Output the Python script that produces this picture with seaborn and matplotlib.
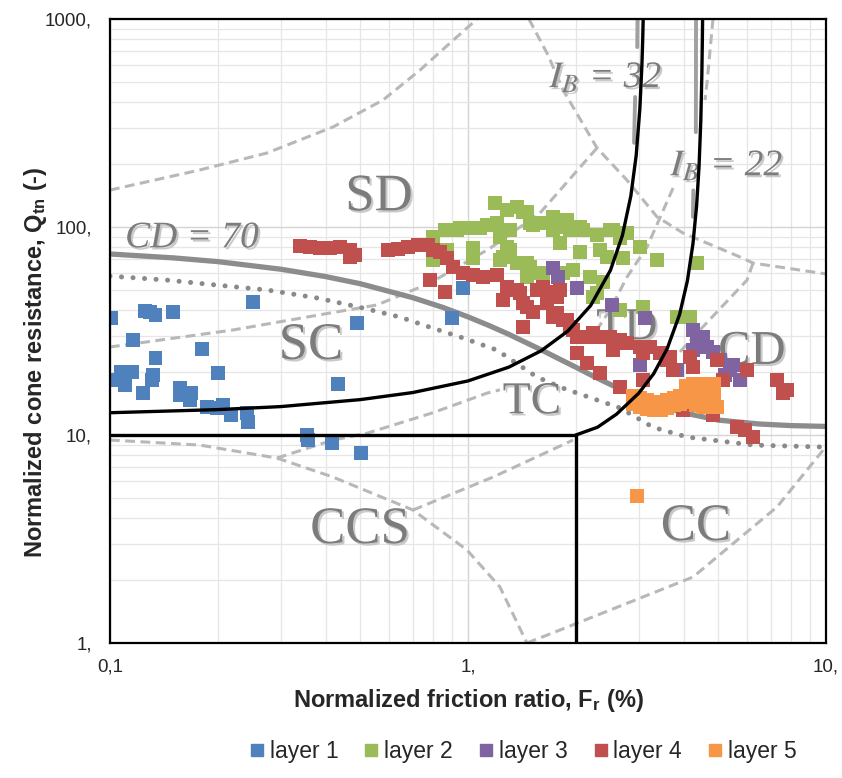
import numpy as np
import pandas as pd
import matplotlib
matplotlib.use("Agg")
import matplotlib.pyplot as plt
import matplotlib.patheffects as pe
from matplotlib.lines import Line2D
from matplotlib.ticker import NullFormatter, LogLocator
import seaborn as sns

# -------------------------------------------
# CPTu points per layer: Fr (%) and Qtn (-)
# -------------------------------------------
fr1 = [0.101, 0.125, 0.129, 0.134, 0.150, 0.251, 0.490, 0.116, 0.181, 0.134,
       0.200, 0.433, 0.107, 0.115, 0.103, 0.110, 0.132, 0.131, 0.124, 0.157,
       0.157, 0.169, 0.167, 0.187, 0.199, 0.207, 0.218, 0.241, 0.243, 0.355,
       0.357, 0.417, 0.503, 0.902, 0.968]
q1 = [36.5, 39.5, 39.0, 37.8, 39.0, 43.6, 34.6, 28.6, 25.9, 23.5,
      19.9, 17.6, 20.1, 20.1, 18.4, 17.4, 19.4, 18.4, 15.9, 16.8,
      15.6, 15.9, 14.7, 13.6, 13.5, 13.9, 12.5, 12.8, 11.5, 10.0,
      9.46, 9.15, 8.19, 36.5, 50.9]

fr2 = [0.798, 0.798, 0.863, 0.873, 0.932, 0.950, 1.013, 1.033, 1.033, 1.080,
       1.130, 1.190, 1.205, 1.228, 1.228, 1.252, 1.285, 1.285, 1.310, 1.310,
       1.370, 1.370, 1.424, 1.461, 1.461, 1.490, 1.490, 1.519, 1.558, 1.620,
       1.620, 1.728, 1.728, 1.807, 1.843, 1.843, 1.890, 1.927, 1.965, 2.055,
       2.055, 2.095, 2.192, 2.235, 2.293, 2.338, 2.383, 2.445, 2.492, 2.541,
       2.658, 2.658, 2.710, 2.781, 3.023, 3.083, 3.372, 3.835, 4.170, 4.362,
       2.293, 1.461]
q2 = [89.5, 69.4, 96.7, 77.5, 96.7, 98.9, 98.9, 79.3, 71.0, 98.9,
      102.2, 130.5, 104.5, 89.5, 69.4, 71.8, 120.7, 80.1, 96.7, 77.5,
      124.8, 67.1, 118.1, 67.1, 57.5, 104.5, 64.2, 102.2, 60.1, 104.5,
      60.1, 111.7, 96.7, 83.8, 100.0, 60.1, 108.1, 96.7, 62.1, 100.0,
      75.8, 96.7, 57.5, 46.1, 91.5, 77.5, 54.4, 71.8, 96.7, 96.7,
      88.5, 39.9, 71.0, 93.6, 80.1, 41.2, 69.4, 36.9, 36.9, 67.1,
      48.2, 118.1]

fr3 = [1.728, 1.784, 2.016, 2.525, 3.122, 3.023, 4.251, 4.533, 4.651, 4.834,
       5.056, 5.393, 5.753, 3.835, 4.362, 4.251, 5.499, 5.224]
q3 = [63.5, 57.5, 50.9, 42.2, 36.5, 21.7, 32.0, 29.6, 26.5, 25.1,
      22.9, 20.5, 18.4, 20.5, 27.7, 25.6, 21.7, 19.4]

fr4 = [0.340, 0.362, 0.386, 0.412, 0.439, 0.468, 0.483, 0.468, 0.598, 0.638,
       0.680, 0.725, 0.773, 0.798, 0.835, 0.873, 0.908, 0.968, 1.033, 1.101,
       1.205, 1.285, 1.370, 1.397, 1.558, 1.620, 1.695, 1.773, 1.807, 0.783,
       0.863, 1.252, 1.424, 1.461, 1.662, 1.519, 1.773, 1.843, 1.424, 1.728,
       1.927, 1.965, 2.016, 2.095, 2.192, 2.293, 2.383, 2.541, 2.658, 2.781,
       2.541, 1.890, 2.016, 2.149, 2.235, 2.338, 2.492, 2.658, 2.710, 3.023,
       3.083, 3.225, 3.438, 3.083, 3.596, 3.665, 3.737, 4.170, 4.251, 4.960,
       5.157, 6.017, 7.297, 7.782, 7.584, 3.987, 4.834, 5.643, 5.940, 6.254]
q4 = [81.0, 80.1, 79.3, 79.3, 80.1, 77.5, 73.3, 71.8, 77.5, 78.4,
      80.1, 81.9, 81.9, 77.5, 75.8, 71.0, 64.2, 60.1, 58.8, 57.5,
      58.8, 51.5, 49.8, 48.2, 49.8, 51.5, 48.7, 46.1, 49.8, 55.6,
      48.7, 44.6, 43.1, 41.2, 43.1, 39.0, 38.6, 35.7, 33.0, 36.9,
      33.0, 32.0, 29.6, 29.6, 29.6, 29.6, 29.6, 28.6, 28.6, 27.7,
      25.6, 35.7, 24.8, 22.2, 30.9, 19.9, 29.6, 17.0, 27.7, 26.5,
      18.4, 26.5, 24.8, 24.8, 22.9, 23.7, 20.5, 23.7, 21.2, 22.9,
      18.4, 20.5, 18.4, 16.5, 15.9, 13.2, 12.5, 10.9, 10.6, 9.78]

fr5 = [2.890, 2.890, 3.023, 3.023, 3.162, 3.162, 3.308, 3.308, 3.460, 3.460,
       3.596, 3.596, 3.761, 3.761, 3.909, 3.909, 4.063, 4.063, 4.063, 4.251,
       4.251, 4.251, 4.446, 4.446, 4.446, 4.651, 4.651, 4.651, 4.866, 4.866,
       4.866, 4.960, 4.742, 4.533, 4.334, 2.966]
q5 = [15.4, 14.1, 15.1, 13.6, 14.7, 13.3, 14.4, 13.2, 14.3, 13.2,
      14.7, 13.5, 15.1, 13.9, 15.4, 14.1, 17.2, 15.7, 14.4, 17.6,
      16.1, 14.7, 17.6, 16.1, 14.7, 17.6, 16.1, 14.7, 17.6, 16.1,
      14.7, 13.6, 13.6, 13.6, 13.9, 5.09]

layer_names = ["layer 1", "layer 2", "layer 3", "layer 4", "layer 5"]
layer_colors = ["#4F81BD", "#9BBB59", "#8064A2", "#C0504D", "#F79646"]

# -------------------------------------------
# Chart boundaries
# -------------------------------------------
ib32_fr = [0.1, 0.2, 0.3, 0.5, 0.7, 1.0, 1.3, 1.6, 1.9, 2.2, 2.5, 2.7, 2.85, 2.95, 3.02, 3.06, 3.075, 3.086]
ib32_q = [12.8, 13.25, 13.7, 14.8, 16.0, 18.2, 21.2, 25.4, 31.6, 41.9, 62.0, 91.2, 141, 221, 369, 596, 775, 1000]
ib22_fr = [2.0, 2.3, 2.6, 3.0, 3.3, 3.6, 3.9, 4.1, 4.25, 4.35, 4.42, 4.47, 4.50, 4.515, 4.522]
ib22_q = [10.0, 10.9, 12.6, 15.9, 19.7, 26.0, 38.0, 55.1, 83.1, 126, 196, 325, 540, 800, 1000]
box_fr = [0.1, 2.0, 2.0]
box_q = [10.0, 10.0, 1.0]
cd70_fr = [0.1, 0.15, 0.2, 0.3, 0.4, 0.5, 0.7, 0.85, 1.0, 1.15, 1.3, 1.6, 1.8, 2.0, 2.25, 2.5, 3.0, 3.5, 4.0, 5.0, 6.5, 8.0, 10.0]
cd70_q = [74.2, 71.1, 68.2, 62.7, 57.8, 53.4, 45.8, 41.1, 37.0, 33.5, 30.5, 25.7, 23.2, 21.2, 19.1, 17.5, 15.2, 13.7, 12.8, 11.8, 11.3, 11.1, 11.0]
dot_fr = [0.1, 0.144, 0.199, 0.275, 0.379, 0.509, 0.646, 0.783, 0.968, 1.205, 1.558, 1.843, 2.658, 3.287, 4.091, 6.254, 10.0]
dot_q = [58.1, 55.6, 52.6, 49.8, 45.6, 40.8, 36.9, 33.0, 29.3, 25.6, 19.0, 16.8, 13.5, 10.9, 9.78, 8.95, 8.75]

dashed_guides = [
    ([0.1, 0.178, 0.2745, 0.420, 0.579, 0.735, 0.891, 1.06], [150.6, 188, 227, 303, 408, 569, 767, 1000]),
    ([1.48, 1.673, 1.843, 2.293, 2.781, 3.372, 3.987, 5.753, 6.254, 10.0], [1000, 671, 456, 240, 168, 112, 93.6, 71.8, 67.1, 59.5]),
    ([0.1, 0.2207, 0.4117, 0.5568, 0.7832, 1.152, 1.589, 2.293], [26.5, 32.0, 38.6, 42.2, 53.8, 79, 116.8, 240]),
    ([4.834, 4.651, 4.592], [1000, 492, 408]),
    ([3.74, 3.162, 2.781, 2.492, 2.192], [154, 80.1, 57.5, 39.9, 28.6]),
    ([6.254, 6.017, 4.446, 3.909], [67.1, 55.6, 32.0, 25.1]),
    ([0.1, 0.178, 0.2927], [9.46, 8.95, 7.75]),
    ([0.2927, 0.4197, 0.5223, 0.798, 1.130, 1.228], [7.75, 9.46, 10.2, 12.8, 15.9, 16.5]),
    ([0.2927, 0.4197, 0.7022, 0.9936, 1.228, 1.461], [7.75, 6.28, 4.36, 2.80, 1.86, 1.0]),
    ([0.7022, 1.175, 1.965], [4.36, 6.28, 9.46]),
    ([1.461, 1.807, 4.251, 7.297, 10.0], [1.0, 1.155, 2.076, 4.51, 8.8]),
]
ghost_guides = [
    ([2.97, 2.975], [733, 1000]),
    ([2.91, 2.93], [254, 422]),
    ([4.33, 4.335], [286, 1000]),
    ([4.25, 4.26], [112, 150]),
]

# -------------------------------------------
# Style
# -------------------------------------------
sns.set_theme(style="white")
plt.rcParams["font.family"] = ["Liberation Sans", "DejaVu Sans"]
plt.rcParams["mathtext.fontset"] = "custom"
plt.rcParams["mathtext.rm"] = "Liberation Sans"
plt.rcParams["mathtext.it"] = "Liberation Sans:italic"
plt.rcParams["mathtext.bf"] = "Liberation Sans:bold"

fig = plt.figure(figsize=(8.42, 7.78), dpi=100)
ax = fig.add_axes([0.1306, 0.1735, 0.8504, 0.802])
ax.set_xscale("log")
ax.set_yscale("log")
ax.set_xlim(0.1, 10)
ax.set_ylim(1, 1000)

ax.grid(True, which="major", color="#d4d4d4", lw=1.0)
ax.grid(True, which="minor", color="#e6e6e6", lw=0.9)
ax.set_axisbelow(True)

# background chart lines
for gx, gy in dashed_guides:
    ax.plot(gx, gy, color="#b8b8b8", lw=2.2, ls=(0, (3.2, 1.8)), zorder=1)
for gx, gy in ghost_guides:
    ax.plot(gx, gy, color="#a0a0a0", lw=2.8, zorder=1)
ax.plot(dot_fr, dot_q, color="#8a8a8a", lw=3.6, ls=(0, (0.01, 2.3)),
        dash_capstyle="round", solid_capstyle="round", zorder=2)
ax.plot(cd70_fr, cd70_q, color="#8c8c8c", lw=3.8, solid_capstyle="butt", zorder=2)

# zone labels
shadow = [pe.SimplePatchShadow(offset=(1.5, -1.5), shadow_rgbFace="#c4c4c4", alpha=0.9), pe.Normal()]
zone_labels = [("SD", 0.564, 139, 38), ("SC", 0.364, 26.8, 38), ("TC", 1.51, 14.4, 33),
               ("TD", 2.78, 32.7, 33), ("CD", 6.21, 25.1, 35), ("CCS", 0.499, 3.49, 38),
               ("CC", 4.33, 3.61, 38)]
for txt, tx, ty, fs in zone_labels:
    ax.text(tx, ty, txt, family="Liberation Serif", fontsize=fs, color="#7c7c7c",
            ha="center", va="center", zorder=3, path_effects=shadow)
ax.text(0.1694, 88.5, "CD = 70", family="Liberation Serif", style="italic", fontsize=27,
        color="#7c7c7c", ha="center", va="center", zorder=3, path_effects=shadow)
ax.text(2.43, 520, r"$I_B$ = 32", family="Liberation Serif", style="italic", fontsize=27,
        math_fontfamily="stix", color="#7c7c7c", ha="center", va="center", zorder=3,
        path_effects=shadow)
ax.text(5.29, 196, r"$I_B$ = 22", family="Liberation Serif", style="italic", fontsize=27,
        math_fontfamily="stix", color="#7c7c7c", ha="center", va="center", zorder=3,
        path_effects=shadow)

# data points
frames = []
for name, fr, q in zip(layer_names, [fr1, fr2, fr3, fr4, fr5], [q1, q2, q3, q4, q5]):
    frames.append(pd.DataFrame({"Fr": fr, "Qtn": q, "layer": name}))
df = pd.concat(frames, ignore_index=True)
sns.scatterplot(data=df, x="Fr", y="Qtn", hue="layer", hue_order=layer_names,
                palette=dict(zip(layer_names, layer_colors)), marker="s", s=100,
                linewidth=0, legend=False, ax=ax, zorder=4)

# black boundaries on top
ax.plot(ib32_fr, ib32_q, color="black", lw=2.4, zorder=5)
ax.plot(ib22_fr, ib22_q, color="black", lw=2.4, zorder=5)
ax.plot(box_fr, box_q, color="black", lw=2.4, zorder=5, solid_joinstyle="miter")

# axes
ax.set_xticks([0.1, 1, 10], labels=["0,1", "1,", "10,"])
ax.set_yticks([1, 10, 100, 1000], labels=["1,", "10,", "100,", "1000,"])
ax.xaxis.set_minor_locator(LogLocator(base=10, subs=np.arange(2, 10)))
ax.yaxis.set_minor_locator(LogLocator(base=10, subs=np.arange(2, 10)))
ax.xaxis.set_minor_formatter(NullFormatter())
ax.yaxis.set_minor_formatter(NullFormatter())
ax.tick_params(which="both", direction="in", length=5, width=1, color="black")
ax.tick_params(axis="x", which="major", labelsize=13.5, pad=11)
ax.tick_params(axis="y", which="major", labelsize=13.5, pad=13)
for sp in ax.spines.values():
    sp.set_color("black")
    sp.set_linewidth(1.6)
    sp.set_zorder(6)

ax.set_xlabel(r"Normalized friction ratio, $\mathbf{F_r}$ (%)", fontsize=17, fontweight="bold")
ax.set_ylabel(r"Normalized cone resistance, $\mathbf{Q_{tn}}$ (-)", fontsize=17, fontweight="bold")
ax.xaxis.set_label_coords(0.5, -0.07)
ax.yaxis.set_label_coords(-0.085, 0.45)

handles = [Line2D([], [], marker="s", ls="", color=c, markersize=8) for c in layer_colors]
fig.legend(handles, layer_names, loc="center", bbox_to_anchor=(0.62, 0.034), ncol=5,
           frameon=False, fontsize=16.5, handletextpad=0.15, columnspacing=1.05,
           handlelength=0.8)

fig.savefig("out.png", dpi=100)
